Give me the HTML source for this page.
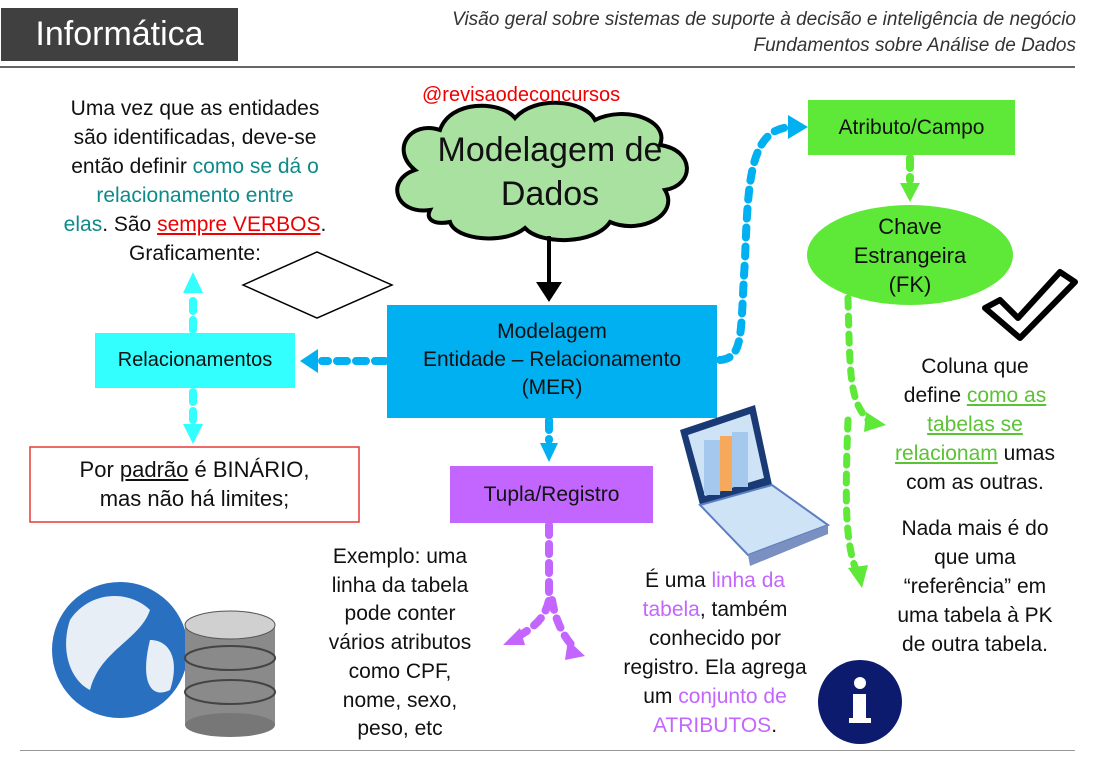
<!DOCTYPE html>
<html><head><meta charset="utf-8"><style>
body{margin:0;width:1094px;height:759px;background:#fff;position:relative;overflow:hidden;font-family:"Liberation Sans",sans-serif;color:#111}
.a{position:absolute}
.c{text-align:center;white-space:nowrap}
</style></head><body>
<div class="a" style="left:1px;top:8px;width:237px;height:53px;background:#404040;color:#fff;font-size:34px;line-height:53px;text-align:center">Informática</div>
<div class="a" style="right:18px;top:7px;font-size:19px;font-style:italic;color:#333;text-align:right;line-height:26px">Visão geral sobre sistemas de suporte à decisão e inteligência de negócio<br>Fundamentos sobre Análise de Dados</div>
<div class="a" style="left:0;top:66px;width:1075px;height:2px;background:#666"></div>
<div class="a" style="left:20px;top:750px;width:1055px;height:1px;background:#999"></div>

<svg class="a" style="left:0;top:0" width="1094" height="759">
<path d="M430,210 C395,215 385,180 415,170 C390,150 410,120 440,130 C450,100 500,100 515,118 C535,95 585,100 595,120 C625,105 670,120 660,145 C695,150 695,185 665,190 C680,215 640,235 610,222 C595,245 540,245 525,228 C505,245 455,240 450,222 C435,225 425,220 430,210z" fill="#a9e1a1" stroke="#000" stroke-width="4"/>
<line x1="549" y1="236" x2="549" y2="285" stroke="#000" stroke-width="4"/>
<path d="M536,282L549,302L562,282z" fill="#000"/>
<path d="M243,285L317,252L392,285L317,318z" fill="#fff" stroke="#000" stroke-width="1.5"/>
<rect x="387" y="305" width="330" height="113" fill="#00b0f0"/>
<line x1="385" y1="361" x2="322" y2="361" stroke="#00b0f0" stroke-width="8" stroke-dasharray="10,9" stroke-linecap="round"/>
<path d="M318,349L300,361L318,373z" fill="#00b0f0"/>
<line x1="549" y1="420" x2="549" y2="440" stroke="#00b0f0" stroke-width="8" stroke-dasharray="10,9" stroke-linecap="round"/>
<path d="M540,443L549,462L558,443z" fill="#00b0f0"/>
<path d="M720,360 C745,358 740,330 745,260 C748,180 750,130 790,127" fill="none" stroke="#00b0f0" stroke-width="8" stroke-dasharray="10,9" stroke-linecap="round"/>
<path d="M788,115L808,127L788,139z" fill="#00b0f0"/>
<rect x="95" y="333" width="200" height="55" fill="#33ffff"/>
<line x1="193" y1="330" x2="193" y2="300" stroke="#33ffff" stroke-width="8" stroke-dasharray="10,9" stroke-linecap="round"/>
<path d="M183,293L193,272L203,293z" fill="#33ffff"/>
<line x1="193" y1="392" x2="193" y2="420" stroke="#33ffff" stroke-width="8" stroke-dasharray="10,9" stroke-linecap="round"/>
<path d="M183,424L193,444L203,424z" fill="#33ffff"/>
<rect x="30" y="447" width="329" height="75" fill="#fff" stroke="#e53935" stroke-width="1.5"/>
<rect x="450" y="466" width="203" height="57" fill="#c266ff"/>
<path d="M549,525 L549,600 C545,620 530,630 515,638" fill="none" stroke="#c266ff" stroke-width="8" stroke-dasharray="10,9" stroke-linecap="round"/>
<path d="M520,628L503,645L525,645z" fill="#c266ff"/>
<path d="M552,600 C555,620 565,640 575,648" fill="none" stroke="#c266ff" stroke-width="8" stroke-dasharray="10,9" stroke-linecap="round"/>
<path d="M568,640L585,656L565,660z" fill="#c266ff"/>
<rect x="808" y="100" width="207" height="55" fill="#5ee838"/>
<line x1="910" y1="158" x2="910" y2="180" stroke="#5ee838" stroke-width="8" stroke-dasharray="10,9" stroke-linecap="round"/>
<path d="M900,183L910,202L920,183z" fill="#5ee838"/>
<ellipse cx="910" cy="255" rx="103" ry="50" fill="#5ee838"/>
<path d="M848,298 C850,380 850,400 868,420" fill="none" stroke="#5ee838" stroke-width="7" stroke-dasharray="9,9" stroke-linecap="round"/>
<path d="M866,412L886,425L864,432z" fill="#5ee838"/>
<path d="M848,420 C845,500 845,540 856,570" fill="none" stroke="#5ee838" stroke-width="7" stroke-dasharray="9,9" stroke-linecap="round"/>
<path d="M848,568L862,588L868,565z" fill="#5ee838"/>
<path d="M985,308 L1000,300 L1018,318 L1060,272 L1075,282 L1020,338z" fill="#fff" stroke="#000" stroke-width="6" stroke-linejoin="round"/>
<circle cx="860" cy="702" r="42" fill="#0d1b6e"/>
<circle cx="860" cy="683" r="6" fill="#fff"/>
<rect x="853" y="694" width="13" height="27" fill="#fff"/>
<rect x="849" y="718" width="22" height="5" fill="#fff"/>
<!-- laptop -->
<path d="M680,430 L755,405 L772,485 L700,505z" fill="#1a3a75"/>
<path d="M688,435 L750,414 L764,478 L705,496z" fill="#cfe3f7"/>
<rect x="704" y="440" width="16" height="55" fill="#a5c8ee"/>
<rect x="720" y="436" width="12" height="55" fill="#f6a95a"/>
<rect x="732" y="432" width="16" height="55" fill="#a5c8ee"/>
<path d="M700,505 L772,485 L828,525 L748,555z" fill="#cfe3f7" stroke="#5b7fc0" stroke-width="2"/>
<path d="M748,555 L828,525 L828,534 L750,566z" fill="#7a90c0"/>
<circle cx="120" cy="650" r="68" fill="#2a70c0"/>
<path d="M70,620 C90,590 130,590 150,610 C140,640 100,650 90,690 C70,680 60,650 70,620z" fill="#e8eef5"/>
<path d="M150,640 C170,640 180,660 170,690 C150,700 140,680 150,640z" fill="#e8eef5"/>
<rect x="185" y="625" width="90" height="100" fill="#8a8a8a"/>
<ellipse cx="230" cy="625" rx="45" ry="14" fill="#d0d0d0" stroke="#555"/>
<ellipse cx="230" cy="658" rx="45" ry="12" fill="none" stroke="#444" stroke-width="2"/>
<ellipse cx="230" cy="692" rx="45" ry="12" fill="none" stroke="#444" stroke-width="2"/>
<ellipse cx="230" cy="725" rx="45" ry="12" fill="#777"/>
</svg>

<div class="a" style="left:422px;top:84px;color:#e00;font-size:20px">@revisaodeconcursos</div>
<div class="a c" style="left:410px;top:128px;width:280px;font-size:34px;line-height:44px">Modelagem de<br>Dados</div>
<div class="a c" style="left:25px;top:94px;width:340px;font-size:21px;line-height:29px">Uma vez que as entidades<br>são identificadas, deve-se<br>então definir <span style="color:#0e8a8a">como se dá o</span><br><span style="color:#0e8a8a">relacionamento entre</span><br><span style="color:#0e8a8a">elas</span>. São <u style="color:#e00">sempre VERBOS</u>.<br>Graficamente:</div>
<div class="a c" style="left:95px;top:333px;width:200px;line-height:55px;font-size:20px">Relacionamentos</div>
<div class="a c" style="left:30px;top:455px;width:329px;font-size:22px;line-height:29px">Por <u>padrão</u> é BINÁRIO,<br>mas não há limites;</div>
<div class="a c" style="left:387px;top:318px;width:330px;font-size:21px;line-height:28px">Modelagem<br>Entidade – Relacionamento<br>(MER)</div>
<div class="a c" style="left:450px;top:466px;width:203px;line-height:57px;font-size:21px">Tupla/Registro</div>
<div class="a c" style="left:808px;top:100px;width:207px;line-height:55px;font-size:21px">Atributo/Campo</div>
<div class="a c" style="left:810px;top:212px;width:200px;font-size:22px;line-height:29px">Chave<br>Estrangeira<br>(FK)</div>
<div class="a c" style="left:290px;top:543px;width:220px;font-size:21px;line-height:28.7px">Exemplo: uma<br>linha da tabela<br>pode conter<br>vários atributos<br>como CPF,<br>nome, sexo,<br>peso, etc</div>
<div class="a c" style="left:595px;top:566px;width:240px;font-size:21px;line-height:29px">É uma <span style="color:#c266ff">linha da</span><br><span style="color:#c266ff">tabela</span>, também<br>conhecido por<br>registro. Ela agrega<br>um <span style="color:#c266ff">conjunto de</span><br><span style="color:#c266ff">ATRIBUTOS</span>.</div>
<div class="a c" style="left:870px;top:352px;width:210px;font-size:21px;line-height:29px">Coluna que<br>define <u style="color:#5bc236">como as</u><br><u style="color:#5bc236">tabelas se</u><br><u style="color:#5bc236">relacionam</u> umas<br>com as outras.</div>
<div class="a c" style="left:870px;top:514px;width:210px;font-size:21px;line-height:29px">Nada mais é do<br>que uma<br>“referência” em<br>uma tabela à PK<br>de outra tabela.</div>
</body></html>
